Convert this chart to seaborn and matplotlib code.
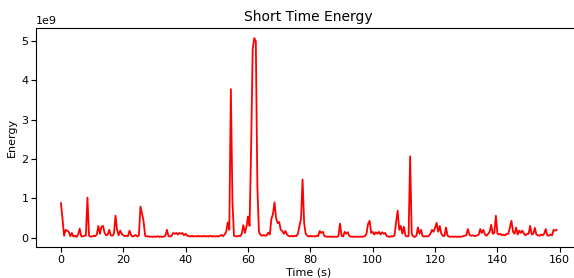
import numpy as np
import matplotlib
matplotlib.use("Agg")
import matplotlib.pyplot as plt
import seaborn as sns

# short time energy per frame, in units of 1e9, one frame every 0.5 s
frame_step = 0.5
ste_00_10 = [0.88, 0.48, 0.05, 0.2, 0.18, 0.15, 0.04, 0.12, 0.03, 0.05,
             0.02, 0.08, 0.23, 0.04, 0.03, 0.05, 0.06, 1.02, 0.05, 0.03]
ste_10_20 = [0.03, 0.05, 0.04, 0.08, 0.3, 0.1, 0.28, 0.3, 0.12, 0.06,
             0.08, 0.2, 0.06, 0.05, 0.1, 0.56, 0.2, 0.06, 0.18, 0.1]
ste_20_30 = [0.06, 0.04, 0.05, 0.04, 0.18, 0.06, 0.03, 0.05, 0.07, 0.03,
             0.06, 0.79, 0.62, 0.42, 0.05, 0.03, 0.04, 0.02, 0.03, 0.02]
ste_30_40 = [0.03, 0.02, 0.04, 0.02, 0.03, 0.02, 0.03, 0.05, 0.2, 0.04,
             0.03, 0.05, 0.12, 0.1, 0.12, 0.08, 0.12, 0.1, 0.12, 0.06]
ste_40_50 = [0.1, 0.05, 0.04, 0.03, 0.05, 0.03, 0.04, 0.03, 0.05, 0.03,
             0.04, 0.03, 0.05, 0.03, 0.04, 0.03, 0.05, 0.03, 0.04, 0.03]
ste_50_60 = [0.04, 0.03, 0.05, 0.07, 0.04, 0.08, 0.15, 0.39, 0.2, 3.78,
             0.95, 0.05, 0.04, 0.03, 0.05, 0.04, 0.1, 0.32, 0.12, 0.28]
ste_60_70 = [0.54, 0.3, 2.3, 4.8, 5.08, 5.0, 1.3, 0.15, 0.07, 0.05,
             0.07, 0.05, 0.06, 0.13, 0.08, 0.48, 0.6, 0.9, 0.5, 0.37]
ste_70_80 = [0.4, 0.2, 0.17, 0.1, 0.17, 0.08, 0.05, 0.03, 0.05, 0.03,
             0.05, 0.04, 0.1, 0.3, 0.48, 1.48, 0.37, 0.1, 0.05, 0.03]
ste_80_90 = [0.05, 0.03, 0.04, 0.03, 0.05, 0.04, 0.17, 0.12, 0.15, 0.04,
             0.03, 0.02, 0.03, 0.02, 0.03, 0.02, 0.03, 0.02, 0.04, 0.36]
ste_90_100 = [0.05, 0.03, 0.15, 0.1, 0.14, 0.04, 0.03, 0.02, 0.03, 0.02,
              0.03, 0.02, 0.03, 0.02, 0.03, 0.04, 0.1, 0.35, 0.43, 0.12]
ste_100_110 = [0.15, 0.08, 0.14, 0.1, 0.15, 0.08, 0.14, 0.1, 0.12, 0.04,
               0.03, 0.02, 0.04, 0.03, 0.06, 0.4, 0.69, 0.2, 0.3, 0.1]
ste_110_120 = [0.28, 0.05, 0.03, 0.04, 2.07, 0.1, 0.03, 0.02, 0.05, 0.26,
               0.1, 0.2, 0.04, 0.03, 0.04, 0.03, 0.05, 0.1, 0.2, 0.15]
ste_120_130 = [0.25, 0.38, 0.15, 0.3, 0.1, 0.05, 0.04, 0.26, 0.05, 0.03,
               0.02, 0.03, 0.02, 0.03, 0.02, 0.03, 0.02, 0.03, 0.04, 0.05]
ste_130_140 = [0.06, 0.22, 0.08, 0.05, 0.06, 0.05, 0.04, 0.06, 0.08, 0.22,
               0.12, 0.2, 0.08, 0.05, 0.1, 0.15, 0.33, 0.1, 0.12, 0.56]
ste_140_150 = [0.1, 0.08, 0.1, 0.06, 0.08, 0.06, 0.1, 0.1, 0.26, 0.43,
               0.15, 0.1, 0.26, 0.08, 0.18, 0.12, 0.18, 0.1, 0.06, 0.1]
ste_150_159 = [0.1, 0.3, 0.08, 0.1, 0.25, 0.08, 0.06, 0.05, 0.08, 0.06,
               0.1, 0.22, 0.06, 0.05, 0.08, 0.06, 0.2, 0.18, 0.2]

ste = np.concatenate([ste_00_10, ste_10_20, ste_20_30, ste_30_40, ste_40_50,
                      ste_50_60, ste_60_70, ste_70_80, ste_80_90, ste_90_100,
                      ste_100_110, ste_110_120, ste_120_130, ste_130_140,
                      ste_140_150, ste_150_159]) * 1e9
times = np.arange(len(ste)) * frame_step

fig = plt.figure(figsize=(5.74, 2.78), dpi=100)
ax = fig.add_axes([0.063, 0.112, 0.95, 0.787])  # right spine falls off the edge

sns.lineplot(x=times, y=ste, color="red", linewidth=1.3, ax=ax)

ax.set_title("Short Time Energy", fontsize=10, pad=5)
ax.set_xlabel("Time (s)", fontsize=8, labelpad=2)
ax.set_ylabel("Energy", fontsize=8, labelpad=3)
ax.tick_params(labelsize=8, pad=2)
ax.yaxis.get_offset_text().set_fontsize(8)

fig.savefig("out.png", dpi=100)
